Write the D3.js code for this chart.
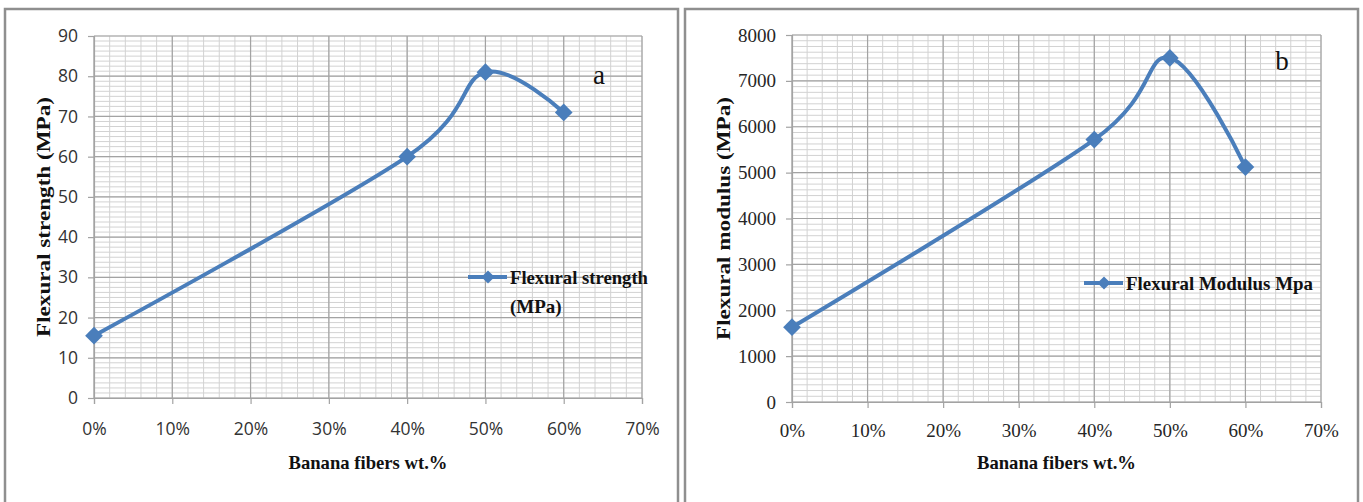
<!DOCTYPE html>
<html>
<head>
<meta charset="utf-8">
<script src="https://cdn.jsdelivr.net/npm/d3@7"></script>
<style>
  html, body { margin: 0; padding: 0; background: #ffffff; }
  svg { display: block; }
</style>
</head>
<body>
<svg id="chart" width="1363" height="502"></svg>
<script>
// ---- data ----
const fiberContent = [0, 0.4, 0.5, 0.6];            // Banana fibers wt.%
const flexuralStrength = [15.5, 60, 81, 71];         // MPa (panel a)
const flexuralModulus = [1630, 5720, 7500, 5120];    // MPa (panel b)
const xTicks = [0, 0.1, 0.2, 0.3, 0.4, 0.5, 0.6, 0.7];
const strengthTicks = [0, 10, 20, 30, 40, 50, 60, 70, 80, 90];
const modulusTicks = [0, 1000, 2000, 3000, 4000, 5000, 6000, 7000, 8000];

const svg = d3.select("#chart");
const blue = "#4a7ebb";

function drawPanel(cfg) {
  const g = svg.append("g");
  // panel border
  g.append("rect")
    .attr("x", cfg.box[0]).attr("y", cfg.box[1])
    .attr("width", cfg.box[2]).attr("height", cfg.box[3])
    .attr("fill", "#fff").attr("stroke", "#8f8f8f").attr("stroke-width", 2.5);

  const x = d3.scaleLinear().domain([0, 0.7]).range([cfg.left, cfg.right]);
  const y = d3.scaleLinear().domain([0, cfg.yMax]).range([cfg.bottom, cfg.top]);

  // minor grid
  const xMinor = d3.range(0, 0.7 + 1e-9, 0.02);
  const yMinor = d3.range(0, cfg.yMax + 1e-9, cfg.yMinorStep);
  g.append("g").selectAll("line").data(xMinor).join("line")
    .attr("x1", d => x(d)).attr("x2", d => x(d))
    .attr("y1", cfg.top).attr("y2", cfg.bottom)
    .attr("stroke", "#d2d2d2").attr("stroke-width", 1);
  g.append("g").selectAll("line").data(yMinor).join("line")
    .attr("y1", d => y(d)).attr("y2", d => y(d))
    .attr("x1", cfg.left).attr("x2", cfg.right)
    .attr("stroke", "#d2d2d2").attr("stroke-width", 1);
  // major grid
  g.append("g").selectAll("line").data(xTicks).join("line")
    .attr("x1", d => x(d)).attr("x2", d => x(d))
    .attr("y1", cfg.top).attr("y2", cfg.bottom)
    .attr("stroke", "#a3a3a3").attr("stroke-width", 1.2);
  g.append("g").selectAll("line").data(cfg.yTicks).join("line")
    .attr("y1", d => y(d)).attr("y2", d => y(d))
    .attr("x1", cfg.left).attr("x2", cfg.right)
    .attr("stroke", "#a3a3a3").attr("stroke-width", 1.2);

  // axes
  const xAxis = d3.axisBottom(x).tickValues(xTicks).tickSize(6).tickPadding(cfg.xPad)
    .tickFormat(d3.format(".0%"));
  const gx = g.append("g").attr("transform", `translate(0,${cfg.bottom})`).call(xAxis);
  const yAxis = d3.axisLeft(y).tickValues(cfg.yTicks).tickSize(6).tickPadding(cfg.yPad)
    .tickFormat(d3.format("d"));
  const gy = g.append("g").attr("transform", `translate(${cfg.left},0)`).call(yAxis);
  [gx, gy].forEach(a => {
    a.select(".domain").attr("stroke", "#a3a3a3").attr("stroke-width", 1.2);
    a.selectAll(".tick line").attr("stroke", "#a3a3a3").attr("stroke-width", 1.2);
    a.selectAll("text").attr("font-family", cfg.tickFont).attr("font-size", cfg.tickSize)
      .attr("fill", cfg.tickColor);
  });

  // axis titles
  g.append("text")
    .attr("x", (cfg.left + cfg.right) / 2).attr("y", 469)
    .attr("text-anchor", "middle")
    .attr("font-family", "Liberation Serif, serif").attr("font-weight", "bold")
    .attr("font-size", 19).attr("fill", "#111")
    .attr("textLength", 159).attr("lengthAdjust", "spacingAndGlyphs")
    .text("Banana fibers wt.%");
  g.append("text")
    .attr("transform", `translate(${cfg.yTitleX},${(cfg.top + cfg.bottom) / 2}) rotate(-90)`)
    .attr("text-anchor", "middle")
    .attr("font-family", "Liberation Serif, serif").attr("font-weight", "bold")
    .attr("font-size", 19).attr("fill", "#111")
    .attr("textLength", cfg.yTitleLen).attr("lengthAdjust", "spacingAndGlyphs")
    .text(cfg.yTitle);

  // series line
  const line = d3.line().x((d, i) => x(fiberContent[i])).y(d => y(d))
    .curve(d3.curveCardinal.tension(0));
  g.append("path").datum(cfg.values).attr("d", line)
    .attr("fill", "none").attr("stroke", blue).attr("stroke-width", 4)
    .attr("stroke-linejoin", "round");
  const diamond = d3.symbol().type(d3.symbolDiamond2).size(200);
  g.append("g").selectAll("path").data(cfg.values).join("path")
    .attr("transform", (d, i) => `translate(${x(fiberContent[i])},${y(d)})`)
    .attr("d", diamond).attr("fill", blue);

  // legend
  const lg = g.append("g").attr("transform", `translate(${cfg.legend[0]},${cfg.legend[1]})`);
  lg.append("line").attr("x1", 0).attr("x2", 39).attr("y1", 0).attr("y2", 0)
    .attr("stroke", blue).attr("stroke-width", 4);
  lg.append("path").attr("transform", "translate(20,0)")
    .attr("d", d3.symbol().type(d3.symbolDiamond2).size(110)).attr("fill", blue);
  cfg.legendLines.forEach((t, i) => {
    const tx = lg.append("text").attr("x", 42).attr("y", 7 + i * 29)
      .attr("font-family", "Liberation Serif, serif").attr("font-weight", "bold")
      .attr("font-size", 19).attr("fill", "#111").text(t);
    if (cfg.legendLens[i]) tx.attr("textLength", cfg.legendLens[i]).attr("lengthAdjust", "spacingAndGlyphs");
  });

  // panel letter
  g.append("text").attr("x", cfg.letterPos[0]).attr("y", cfg.letterPos[1])
    .attr("text-anchor", "middle")
    .attr("font-family", "Liberation Serif, serif").attr("font-size", 27).attr("fill", "#111")
    .text(cfg.letter);
}

drawPanel({
  box: [5, 9, 673, 500],
  left: 94, right: 642, top: 36, bottom: 398,
  yMax: 90, yTicks: strengthTicks, yMinorStep: 10 / 8,
  values: flexuralStrength,
  tickFont: "Open Sans, sans-serif", tickSize: 17.5, tickColor: "#333333", yPad: 10, xPad: 19,
  yTitle: "Flexural strength (MPa)", yTitleX: 50, yTitleLen: 240,
  legend: [468, 277], legendLines: ["Flexural strength", "(MPa)"], legendLens: [138, 0],
  letter: "a", letterPos: [599, 84]
});

drawPanel({
  box: [685, 9, 673, 500],
  left: 792, right: 1321, top: 35, bottom: 402,
  yMax: 8000, yTicks: modulusTicks, yMinorStep: 1000 / 8,
  values: flexuralModulus,
  tickFont: "Liberation Serif, serif", tickSize: 19, tickColor: "#262626", yPad: 10, xPad: 16,
  yTitle: "Flexural modulus (MPa)", yTitleX: 730, yTitleLen: 243,
  legend: [1084, 283], legendLines: ["Flexural Modulus Mpa"], legendLens: [187],
  letter: "b", letterPos: [1282, 70]
});
</script>
</body>
</html>
